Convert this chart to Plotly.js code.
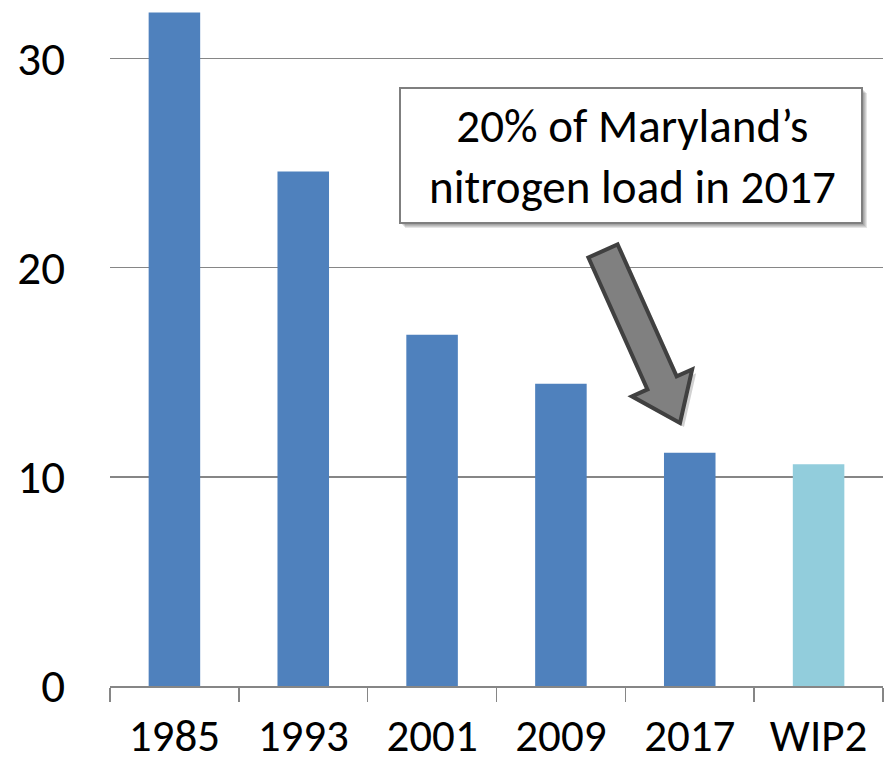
<!DOCTYPE html>
<html>
<head>
<meta charset="utf-8">
<script src="https://cdn.plot.ly/plotly-3.0.1.min.js"></script>
<style>html,body{margin:0;padding:0;background:#fff;}#chart{width:885px;height:764px;}</style>
</head>
<body>
<div id="chart"></div>
<script>
var categories = ["1985", "1993", "2001", "2009", "2017", "WIP2"];
var loads = [32.2, 24.6, 16.8, 14.45, 11.15, 10.6];
var barColors = ["#4f81bd", "#4f81bd", "#4f81bd", "#4f81bd", "#4f81bd", "#92cddc"];
var yTicks = [0, 10, 20, 30];
var calloutText = "20% of Maryland’s<br>nitrogen load in 2017";

var FONT = "Carlito, Calibri, 'Open Sans', sans-serif";
var W = 885, H = 764, ML = 110, MR = 2, MT = 0, MB = 78;
var PW = W - ML - MR, PH = H - MT - MB;
function px(x) { return (x - ML) / PW; }
function py(y) { return (H - MB - y) / PH; }

// callout box (pixel geometry)
var bx0 = 400, bx1 = 862, by0 = 88, by1 = 223;

// block arrow geometry
var tail = [603, 251], tip = [680, 423];
var dx = tip[0] - tail[0], dy = tip[1] - tail[1];
var L = Math.sqrt(dx * dx + dy * dy);
var ux = dx / L, uy = dy / L, nx = -uy, ny = ux;
var sw = 16, hw = 33, hl = 44;
function pt(along, side) {
  var x = tail[0] + ux * along + nx * side;
  var y = tail[1] + uy * along + ny * side;
  return px(x).toFixed(5) + "," + py(y).toFixed(5);
}
var arrowPath = "M" + pt(0, sw) + " L" + pt(L - hl, sw) + " L" + pt(L - hl, hw) +
  " L" + pt(L, 0) + " L" + pt(L - hl, -hw) + " L" + pt(L - hl, -sw) + " L" + pt(0, -sw) + " Z";
var shadowPath = arrowPath.replace(/([\d.\-]+),([\d.\-]+)/g, function (m, a, b) {
  return (parseFloat(a) + 4 / PW).toFixed(5) + "," + (parseFloat(b) - 4 / PH).toFixed(5);
});

var shapes = [];
for (var i = 5; i >= 2; i--) {
  shapes.push({type: "rect", xref: "paper", yref: "paper",
    x0: px(bx0 + i), x1: px(bx1 + i), y0: py(by1 + i), y1: py(by0 + i),
    fillcolor: "rgba(0,0,0,0.10)", line: {width: 0}});
}
shapes.push({type: "rect", xref: "paper", yref: "paper",
  x0: px(bx0), x1: px(bx1), y0: py(by1), y1: py(by0),
  fillcolor: "#ffffff", line: {color: "#7f7f7f", width: 2}});
shapes.push({type: "path", xref: "paper", yref: "paper", path: shadowPath,
  fillcolor: "rgba(0,0,0,0.18)", line: {width: 0}});
shapes.push({type: "path", xref: "paper", yref: "paper", path: arrowPath,
  fillcolor: "#808080", line: {color: "#404040", width: 4}});

var data = [{
  type: "bar", x: categories, y: loads,
  marker: {color: barColors, line: {width: 0}},
  hoverinfo: "x+y"
}];

var layout = {
  width: W, height: H,
  margin: {l: ML, r: MR, t: MT, b: MB, pad: 0},
  paper_bgcolor: "#ffffff", plot_bgcolor: "#ffffff",
  showlegend: false,
  bargap: 0.6,
  font: {family: FONT, color: "#000000", size: 47},
  xaxis: {
    type: "category", tickson: "boundaries",
    ticks: "outside", ticklen: 14, tickwidth: 1.5, tickcolor: "#868686",
    showline: true, linecolor: "#868686", linewidth: 1.5,
    showgrid: false, zeroline: false,
    tickfont: {family: FONT, size: 45, color: "#000"},
    ticklabelstandoff: 9, automargin: false
  },
  yaxis: {
    range: [0, 32.8], tickvals: yTicks, ticktext: yTicks.map(String),
    showgrid: true, gridcolor: "#868686", gridwidth: 1.5,
    zeroline: false, showline: false, ticks: "",
    tickfont: {family: FONT, size: 47, color: "#000"},
    ticklabelstandoff: 44, automargin: false, fixedrange: true
  },
  shapes: shapes,
  annotations: [{
    xref: "paper", yref: "paper",
    x: px(632), y: py((by0 + by1) / 2 + 1),
    xanchor: "center", yanchor: "middle",
    text: calloutText, showarrow: false, align: "center",
    font: {family: FONT, size: 47, color: "#000"}
  }]
};

Plotly.newPlot("chart", data, layout, {displayModeBar: false, staticPlot: true});
</script>
</body>
</html>
